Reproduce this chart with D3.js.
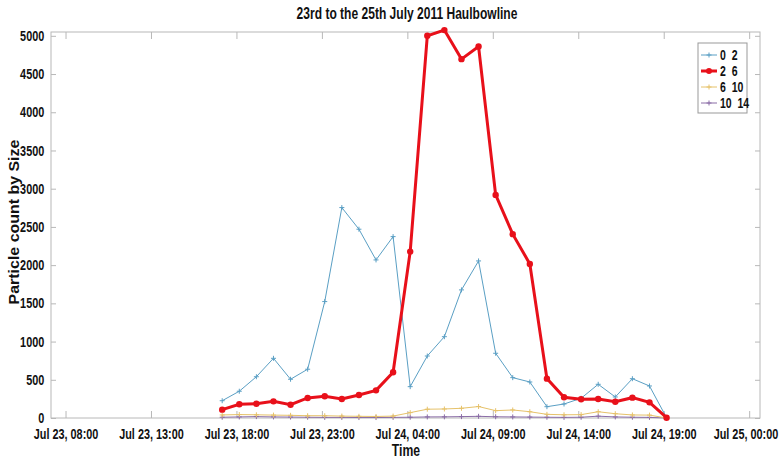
<!DOCTYPE html>
<html>
<head>
<meta charset="utf-8">
<script src="https://cdn.jsdelivr.net/npm/d3@7"></script>
<style>
  body { margin: 0; background: #fff; }
  svg { display: block; }
  .narrow { font-family: "Liberation Sans", Arial, sans-serif; font-weight: bold; }
</style>
</head>
<body>
<svg width="779" height="458"></svg>
<script>
// hourly samples, Jul 23 17:10 -> Jul 24 19:10
const startTime = '2011-07-23 17:10';
const size0to2 = [226, 350, 540, 781, 507, 638, 1523, 2753, 2470, 2068, 2373, 410, 811, 1064,
  1676, 2055, 847, 528, 471, 148, 183, 258, 441, 275, 514, 419, 4];
const size2to6 = [109, 179, 187, 218, 174, 262, 284, 249, 301, 362, 598, 2177, 5000, 5075,
  4695, 4860, 2919, 2405, 2016, 515, 271, 245, 249, 213, 266, 205, 4];
const size6to10 = [40, 45, 42, 38, 35, 30, 30, 25, 22, 20, 25, 70, 115, 118,
  127, 150, 96, 105, 82, 48, 42, 44, 82, 56, 40, 38, 0];
const size10to14 = [10, 14, 18, 14, 12, 10, 8, 8, 6, 6, 8, 10, 14, 15,
  18, 22, 16, 14, 12, 10, 8, 10, 24, 14, 10, 8, 0];

const seriesNames = ['0  2', '2  6', '6  10', '10  14'];
const seriesColors = ['#5a9fc4', '#e8101a', '#e6c26a', '#8a6ca6'];
const tickLabels = ['2011-07-23 08:00', '2011-07-23 13:00', '2011-07-23 18:00', '2011-07-23 23:00',
  '2011-07-24 04:00', '2011-07-24 09:00', '2011-07-24 14:00', '2011-07-24 19:00', '2011-07-25 00:00'];
const yTicks = [0, 500, 1000, 1500, 2000, 2500, 3000, 3500, 4000, 4500, 5000];

const parse = d3.timeParse('%Y-%m-%d %H:%M');
const t0 = parse(startTime);
const times = size0to2.map((_, i) => d3.timeHour.offset(t0, i));
const allSeries = [size0to2, size2to6, size6to10, size10to14];

const svg = d3.select('svg');
const plotLeft = 51, plotRight = 760, plotTop = 32, plotBottom = 418;
// no condensed face installed, so squeeze the bold one
const squeeze = 'scale(0.75,1)';

const x = d3.scaleTime()
  .domain([parse('2011-07-23 07:09'), parse('2011-07-25 00:38')])
  .range([plotLeft, plotRight]);
const y = d3.scaleLinear().domain([0, 5050]).range([plotBottom, plotTop]);

const axisColor = '#b8b8b8';
const tickTimes = tickLabels.map(parse);
const fmt = d3.timeFormat('%b %d, %H:%M');

// frame
svg.append('rect')
  .attr('x', plotLeft).attr('y', plotTop)
  .attr('width', plotRight - plotLeft).attr('height', plotBottom - plotTop)
  .attr('fill', 'none').attr('stroke', axisColor);

// bottom axis
const xAxis = svg.append('g')
  .attr('transform', `translate(0,${plotBottom})`)
  .call(d3.axisBottom(x).tickValues(tickTimes).tickFormat(fmt).tickSizeInner(-7).tickSizeOuter(0).tickPadding(11));
xAxis.select('.domain').remove();
xAxis.selectAll('line').attr('stroke', axisColor);
xAxis.selectAll('text').attr('class', 'narrow').attr('font-size', 14.5).attr('fill', '#111')
  .attr('transform', squeeze)
  .attr('x', (d, i) => i === tickTimes.length - 1 ? -5 : 0); // keep the last one inside the page

// top ticks
const xTop = svg.append('g')
  .attr('transform', `translate(0,${plotTop})`)
  .call(d3.axisTop(x).tickValues(tickTimes).tickFormat('').tickSizeInner(-7).tickSizeOuter(0));
xTop.select('.domain').remove();
xTop.selectAll('line').attr('stroke', axisColor);

// left axis
const yAxis = svg.append('g')
  .attr('transform', `translate(${plotLeft},0)`)
  .call(d3.axisLeft(y).tickValues(yTicks).tickFormat(d3.format('d')).tickSizeInner(-5).tickSizeOuter(0).tickPadding(9));
yAxis.select('.domain').remove();
yAxis.selectAll('line').attr('stroke', axisColor);
yAxis.selectAll('text').attr('class', 'narrow').attr('font-size', 14.5).attr('fill', '#111')
  .attr('transform', squeeze);

// right ticks
const yRight = svg.append('g')
  .attr('transform', `translate(${plotRight},0)`)
  .call(d3.axisRight(y).tickValues(yTicks).tickFormat('').tickSizeInner(-5).tickSizeOuter(0));
yRight.select('.domain').remove();
yRight.selectAll('line').attr('stroke', axisColor);

// title + axis labels
svg.append('text')
  .attr('class', 'narrow')
  .attr('transform', 'translate(407,19) scale(0.73,1)')
  .attr('text-anchor', 'middle').attr('font-size', 16.5).attr('fill', '#111')
  .text('23rd to the 25th July 2011 Haulbowline');

svg.append('text')
  .attr('class', 'narrow')
  .attr('transform', 'translate(406,456) scale(0.74,1)')
  .attr('text-anchor', 'middle').attr('font-size', 16.5).attr('fill', '#111')
  .text('Time');

svg.append('text')
  .attr('transform', 'translate(19,222) rotate(-90) scale(1.1,1)')
  .attr('text-anchor', 'middle')
  .attr('font-family', 'Liberation Sans, Arial, sans-serif')
  .attr('font-weight', 'bold').attr('font-size', 14.5).attr('fill', '#111')
  .text('Particle count by Size');

// series
const line = d3.line().x((d, i) => x(times[i])).y(d => y(d));
const plot = svg.append('g');

function plus(g, color, s) {
  g.append('line').attr('x1', -s).attr('x2', s).attr('stroke', color).attr('stroke-width', 1);
  g.append('line').attr('y1', -s).attr('y2', s).attr('stroke', color).attr('stroke-width', 1);
}

// draw small series first, red last on top
[3, 2, 0, 1].forEach(k => {
  const data = allSeries[k];
  const color = seriesColors[k];
  const g = plot.append('g');
  g.append('path')
    .datum(data)
    .attr('d', line)
    .attr('fill', 'none')
    .attr('stroke', color)
    .attr('stroke-width', k === 1 ? 3 : 1);
  const marks = g.selectAll('g.m')
    .data(data)
    .enter()
    .append('g')
    .attr('class', 'm')
    .attr('transform', (d, i) => `translate(${x(times[i])},${y(d)})`);
  if (k === 1) {
    marks.append('circle').attr('r', 3.2).attr('fill', color);
  } else {
    marks.each(function () { plus(d3.select(this), color, 2.5); });
  }
});

// legend
const legend = svg.append('g').attr('transform', 'translate(698,43)');
legend.append('rect')
  .attr('width', 49).attr('height', 70)
  .attr('fill', '#fff').attr('stroke', '#999');
seriesNames.forEach((name, k) => {
  const row = legend.append('g').attr('transform', `translate(0,${12 + k * 16})`);
  row.append('line')
    .attr('x1', 3).attr('x2', 19)
    .attr('stroke', seriesColors[k])
    .attr('stroke-width', k === 1 ? 3 : 1);
  const m = row.append('g').attr('transform', 'translate(11,0)');
  if (k === 1) m.append('circle').attr('r', 3).attr('fill', seriesColors[k]);
  else plus(m, seriesColors[k], 2.5);
  row.append('text')
    .attr('class', 'narrow')
    .attr('transform', 'translate(22,0) ' + squeeze)
    .attr('dy', '0.35em')
    .attr('font-size', 14).attr('fill', '#111')
    .style('white-space', 'pre')
    .text(name);
});
</script>
</body>
</html>
